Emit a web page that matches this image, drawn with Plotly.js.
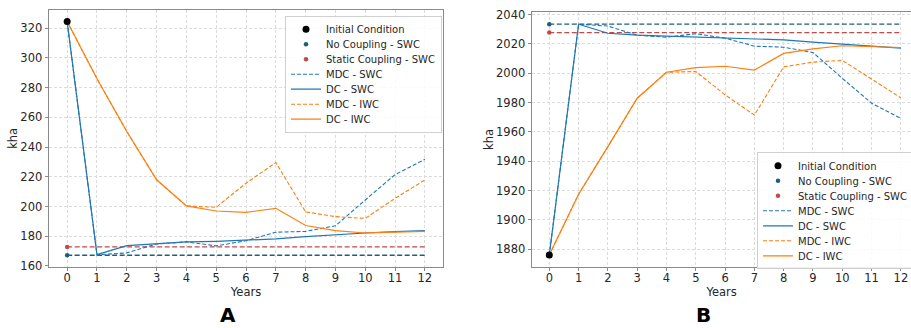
<!DOCTYPE html>
<html>
<head>
<meta charset="utf-8">
<script src="https://cdn.plot.ly/plotly-3.0.1.min.js"></script>
<style>
  html, body { margin: 0; padding: 0; background: #ffffff; }
  #chart { width: 911px; height: 328px; }
</style>
</head>
<body>
<div id="chart"></div>
<script>
// ---------- data ----------
const years = [0, 1, 2, 3, 4, 5, 6, 7, 8, 9, 10, 11, 12];
const baselineYears = [0, 12];
const xTickVals = [0, 1, 2, 3, 4, 5, 6, 7, 8, 9, 10, 11, 12];

// Panel A
const initialA = [324.5];
const noCouplingA = [167.2, 167.2];
const staticCouplingA = [172.8, 172.8];
const mdcSwcA = [324.5, 167.5, 168.8, 174.8, 176.2, 173.5, 177.0, 182.7, 183.3, 187.0, 204.4, 221.5, 231.8];
const dcSwcA  = [324.5, 167.6, 173.7, 175.0, 176.2, 176.6, 177.3, 178.2, 179.7, 181.1, 182.2, 183.1, 183.8];
const mdcIwcA = [324.5, 286.0, 250.5, 218.0, 200.4, 199.5, 215.7, 229.6, 196.4, 193.2, 192.0, 205.5, 217.9];
const dcIwcA  = [324.5, 286.0, 250.5, 218.0, 200.4, 197.0, 196.1, 198.8, 187.2, 183.8, 182.2, 183.0, 183.3];
const yTicksA = [160, 180, 200, 220, 240, 260, 280, 300, 320];

// Panel B
const initialB = [1876];
const noCouplingB = [2033.5, 2033.5];
const staticCouplingB = [2027.8, 2027.8];
const mdcSwcB = [1876, 2033.5, 2032.2, 2026.0, 2024.6, 2027.0, 2024.0, 2018.5, 2017.8, 2014.2, 1996.6, 1979.6, 1969.2];
const dcSwcB  = [1876, 2033.5, 2027.3, 2026.0, 2025.3, 2024.6, 2024.2, 2023.6, 2022.8, 2021.3, 2020.0, 2018.4, 2017.2];
const mdcIwcB = [1876, 1917.5, 1950.0, 1983.0, 2000.7, 2001.2, 1985.3, 1971.5, 2004.4, 2007.6, 2008.8, 1996.2, 1983.3];
const dcIwcB  = [1876, 1917.5, 1950.0, 1983.0, 2000.7, 2003.8, 2004.8, 2002.2, 2013.6, 2016.7, 2018.8, 2018.2, 2017.6];
const yTicksB = [1880, 1900, 1920, 1940, 1960, 1980, 2000, 2020, 2040];

const labels = ["Initial Condition", "No Coupling - SWC", "Static Coupling - SWC",
                "MDC - SWC", "DC - SWC", "MDC - IWC", "DC - IWC"];

// ---------- styles ----------
const BLUE = "#1f77b4", ORANGE = "#ff7f0e", TEAL = "#1b5e7e", RED = "#bf4b4b";
const FONT = "DejaVu Sans, Liberation Sans, sans-serif";
const SHORTDASH = "4px,2px";

function panel(xa, ya, leg, initial, noC, statC, mdcS, dcS, mdcI, dcI) {
  return [
    {x: baselineYears, y: noC, xaxis: xa, yaxis: ya, mode: "lines", showlegend: false,
     line: {color: TEAL, width: 1.3, dash: "5px,2.5px"}},
    {x: baselineYears, y: statC, xaxis: xa, yaxis: ya, mode: "lines", showlegend: false,
     line: {color: RED, width: 1.3, dash: "5px,2.5px"}},
    {x: years, y: mdcS, xaxis: xa, yaxis: ya, mode: "lines", name: labels[3], legend: leg,
     line: {color: BLUE, width: 1.1, dash: SHORTDASH}},
    {x: years, y: dcS, xaxis: xa, yaxis: ya, mode: "lines", name: labels[4], legend: leg,
     line: {color: BLUE, width: 1.2}},
    {x: years, y: mdcI, xaxis: xa, yaxis: ya, mode: "lines", name: labels[5], legend: leg,
     line: {color: ORANGE, width: 1.1, dash: SHORTDASH}},
    {x: years, y: dcI, xaxis: xa, yaxis: ya, mode: "lines", name: labels[6], legend: leg,
     line: {color: ORANGE, width: 1.2}},
    {x: [baselineYears[0]], y: [noC[0]], xaxis: xa, yaxis: ya, mode: "markers", name: labels[1], legend: leg,
     marker: {color: TEAL, size: 4.5}},
    {x: [baselineYears[0]], y: [statC[0]], xaxis: xa, yaxis: ya, mode: "markers", name: labels[2], legend: leg,
     marker: {color: RED, size: 4.5}},
    {x: [years[0]], y: initial, xaxis: xa, yaxis: ya, mode: "markers", name: labels[0], legend: leg,
     marker: {color: "#000000", size: 7}}
  ];
}

const traces = [].concat(
  panel("x", "y", "legend", initialA, noCouplingA, staticCouplingA, mdcSwcA, dcSwcA, mdcIwcA, dcIwcA),
  panel("x2", "y2", "legend2", initialB, noCouplingB, staticCouplingB, mdcSwcB, dcSwcB, mdcIwcB, dcIwcB)
);

const order = {"Initial Condition": 1, "No Coupling - SWC": 2, "Static Coupling - SWC": 3,
               "MDC - SWC": 4, "DC - SWC": 5, "MDC - IWC": 6, "DC - IWC": 7};
traces.forEach(t => { if (t.name) t.legendrank = order[t.name]; });

const tickFont = {family: FONT, size: 11.5, color: "#262626"};
const titleFont = {family: FONT, size: 11.5, color: "#262626"};

function xAxis(domain, range) {
  return {
    domain: domain, range: range, tickmode: "array", tickvals: xTickVals,
    ticks: "outside", ticklen: 3.5, tickcolor: "#8a8a8a", tickwidth: 1,
    ticklabelstandoff: -3,
    showline: true, linecolor: "#8a8a8a", linewidth: 1.2, mirror: true,
    showgrid: true, gridcolor: "#dcdcdc", griddash: "3px,2px", gridwidth: 1,
    zeroline: false, tickfont: tickFont,
    title: {text: "Years", font: titleFont, standoff: 0}
  };
}
function yAxis(anchor, range, ticks, domain) {
  return {
    anchor: anchor, domain: domain, range: range, tickmode: "array", tickvals: ticks,
    ticks: "outside", ticklen: 3.5, tickcolor: "#8a8a8a", tickwidth: 1,
    showline: true, linecolor: "#8a8a8a", linewidth: 1.2, mirror: true,
    showgrid: true, gridcolor: "#dcdcdc", griddash: "3px,2px", gridwidth: 1,
    zeroline: false, tickfont: tickFont,
    title: {text: "kha", font: titleFont, standoff: 0}
  };
}

const legendBase = {
  bgcolor: "rgba(255,255,255,0.85)", bordercolor: "#d0d0d0", borderwidth: 1,
  font: {family: FONT, size: 10, color: "#262626"},
  xanchor: "left", yanchor: "top", traceorder: "normal", itemwidth: 30
};

const layout = {
  width: 911, height: 328,
  margin: {l: 0, r: 0, t: 0, b: 0, autoexpand: false},
  paper_bgcolor: "#ffffff", plot_bgcolor: "#ffffff",
  font: {family: FONT},
  showlegend: true,
  xaxis: Object.assign(xAxis([0.0541, 0.4860], [-0.6, 12.6]), {anchor: "y"}),
  yaxis: yAxis("x", [159.5, 332.3], yTicksA, [0.1869, 0.9695]),
  xaxis2: Object.assign(xAxis([0.5843, 1.0], [-0.58, 12.345]), {anchor: "y2"}),
  yaxis2: yAxis("x2", [1868.1, 2041.6], yTicksB, [0.1869, 0.9625]),
  legend: Object.assign({}, legendBase, {x: 285 / 911, y: (328 - 15.7) / 328}),
  legend2: Object.assign({}, legendBase, {x: 757 / 911, y: (328 - 152.3) / 328}),
  annotations: [
    {text: "<b>A</b>", xref: "paper", yref: "paper", x: 227.7 / 911, y: 0,
     xanchor: "center", yanchor: "bottom", showarrow: false, borderpad: 0,
     font: {family: FONT, size: 20, color: "#000000"}},
    {text: "<b>B</b>", xref: "paper", yref: "paper", x: 703 / 911, y: 0,
     xanchor: "center", yanchor: "bottom", showarrow: false, borderpad: 0,
     font: {family: FONT, size: 20, color: "#000000"}}
  ],
  hovermode: false
};

// legend boxes in the reference: top-left corners and a compact 15px row pitch
const legendBoxes = {legend: {left: 285, top: 15.7}, legend2: {left: 757, top: 152.3}};
const ROW = 15;

function parseT(el) {
  const m = /translate\(\s*([-\d.e]+)[ ,]+([-\d.e]+)/.exec(el.getAttribute("transform") || "");
  return m ? [parseFloat(m[1]), parseFloat(m[2])] : [0, 0];
}

Plotly.newPlot("chart", traces, layout, {staticPlot: true, displayModeBar: false}).then(gd => {
  Object.keys(legendBoxes).forEach(id => {
    const g = gd.querySelector("g." + id);
    if (!g) return;
    const items = Array.from(g.querySelectorAll("g.traces"));
    if (items.length < 2) return;
    const pos = items.map(parseT);
    const idx = pos.map((p, i) => i).sort((a, b) => pos[a][1] - pos[b][1]);
    const step = pos[idx[1]][1] - pos[idx[0]][1];
    const shrink = step - ROW;
    const y0 = pos[idx[0]][1] - shrink / 2;
    idx.forEach((i, k) => items[i].setAttribute("transform", "translate(" + pos[i][0] + "," + (y0 + k * ROW) + ")"));
    const bg = g.querySelector("rect.bg");
    if (bg) {
      const h = parseFloat(bg.getAttribute("height"));
      bg.setAttribute("height", h - items.length * shrink);
    }
    g.setAttribute("transform", "translate(" + legendBoxes[id].left + "," + legendBoxes[id].top + ")");
  });
});
</script>
</body>
</html>
